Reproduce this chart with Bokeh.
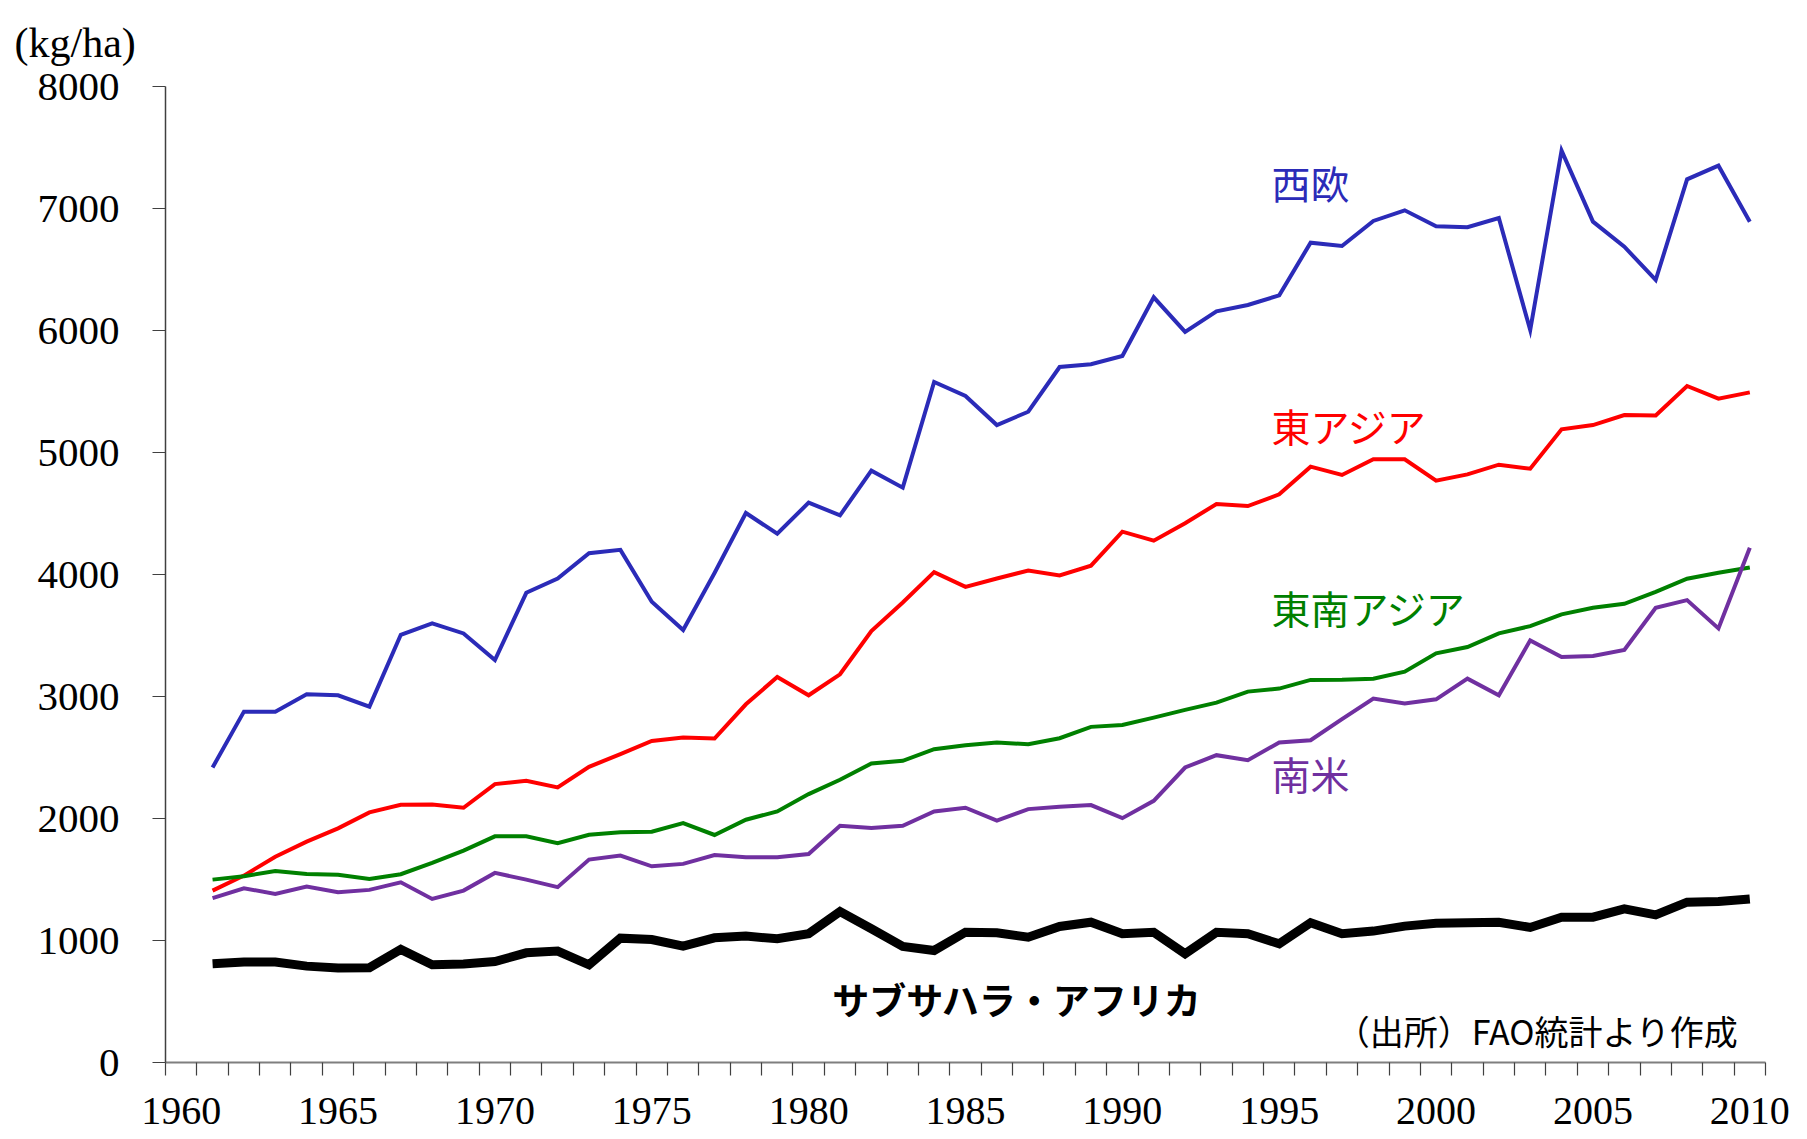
from bokeh.plotting import figure
from bokeh.models import Range1d, FixedTicker, Label
from bokeh.embed import file_html
from bokeh.resources import INLINE

years = list(range(1961, 2011))

west_europe = [2418, 2876, 2876, 3018, 3010, 2917, 3506, 3599, 3517, 3299,
               3850, 3967, 4174, 4202, 3776, 3545, 4013, 4504, 4334, 4589,
               4485, 4851, 4712, 5578, 5463, 5225, 5334, 5701, 5723, 5791,
               6272, 5988, 6157, 6209, 6288, 6720, 6693, 6898, 6985, 6854,
               6846, 6922, 6004, 7474, 6892, 6687, 6414, 7239, 7351, 6892]

east_asia = [1409, 1532, 1687, 1810, 1919, 2050, 2113, 2115, 2088, 2282,
             2309, 2255, 2424, 2527, 2636, 2663, 2655, 2936, 3160, 3010,
             3182, 3536, 3770, 4019, 3899, 3967, 4033, 3992, 4072, 4351,
             4277, 4420, 4578, 4561, 4657, 4884, 4816, 4944, 4944, 4769,
             4821, 4900, 4867, 5190, 5225, 5307, 5303, 5545, 5441, 5493]

southeast_asia = [1499, 1527, 1570, 1546, 1538, 1505, 1543, 1636, 1737, 1854,
                  1854, 1797, 1867, 1887, 1892, 1963, 1865, 1990, 2058, 2200,
                  2317, 2451, 2473, 2568, 2601, 2623, 2609, 2658, 2751, 2767,
                  2827, 2890, 2950, 3040, 3065, 3136, 3138, 3146, 3204, 3354,
                  3406, 3517, 3577, 3673, 3727, 3760, 3858, 3965, 4014, 4057]

south_america = [1347, 1428, 1382, 1442, 1396, 1415, 1477, 1341, 1409, 1554,
                 1499, 1437, 1663, 1696, 1608, 1628, 1701, 1682, 1682, 1709,
                 1941, 1922, 1941, 2058, 2088, 1982, 2077, 2096, 2110, 2003,
                 2145, 2418, 2519, 2478, 2623, 2642, 2814, 2983, 2942, 2977,
                 3146, 3010, 3460, 3324, 3332, 3381, 3727, 3790, 3558, 4220]

subsaharan_africa = [809, 823, 823, 790, 774, 777, 927, 801, 807, 828,
                     899, 913, 801, 1019, 1008, 954, 1022, 1036, 1014, 1055,
                     1238, 1096, 951, 918, 1068, 1063, 1027, 1115, 1150, 1055,
                     1068, 891, 1068, 1055, 973, 1145, 1055, 1077, 1118, 1142,
                     1145, 1150, 1107, 1191, 1191, 1259, 1210, 1314, 1319, 1341]

series_names = ["西欧", "東アジア", "東南アジア", "南米", "サブサハラ・アフリカ"]
series_values = [west_europe, east_asia, southeast_asia, south_america, subsaharan_africa]
series_colors = ["#2B2BB8", "#FF0000", "#008000", "#7030A0", "#000000"]
series_widths = [4, 4, 4, 4, 9]

# label anchor positions (data units)
label_x = [1994.75, 1994.75, 1994.75, 1994.75, 1980.75]
label_y = [7216, 5225, 3734, 2373, 520]

x_tick_labels = [1960, 1965, 1970, 1975, 1980, 1985, 1990, 1995, 2000, 2005, 2010]
y_ticks = [0, 1000, 2000, 3000, 4000, 5000, 6000, 7000, 8000]

unit_text = "(kg/ha)"
source_text = "（出所）FAO統計より作成"

JP = "Noto Sans CJK JP"
SERIF = "Liberation Serif"

p = figure(width=1799, height=1135, output_backend="svg", toolbar_location=None,
           x_range=Range1d(1959.5, 2010.5), y_range=Range1d(0, 8000),
           min_border_left=165, min_border_right=34, min_border_top=86,
           min_border_bottom=73)
p.outline_line_color = None
p.xgrid.visible = False
p.ygrid.visible = False
p.background_fill_color = "white"
p.border_fill_color = "white"

# unit text shown top-left
p.title.text = unit_text
p.title.text_font = SERIF
p.title.text_font_size = "42px"
p.title.text_font_style = "normal"
p.title.text_color = "black"
p.title.align = "left"
p.title.vertical_align = "top"
p.title.offset = -151
p.title.standoff = 38

# x axis: labels at category centres, tick marks at category boundaries
p.xaxis.ticker = FixedTicker(ticks=x_tick_labels,
                             minor_ticks=[y - 0.5 for y in range(1960, 2012)])
p.xaxis.major_tick_out = 0
p.xaxis.major_tick_in = 0
p.xaxis.minor_tick_out = 13
p.xaxis.minor_tick_in = 0
p.xaxis.minor_tick_line_color = "#404040"
p.xaxis.minor_tick_line_width = 1.2
p.xaxis.axis_line_color = "#7F7F7F"
p.xaxis.axis_line_width = 2
p.xaxis.major_label_text_font = SERIF
p.xaxis.major_label_text_font_size = "40px"
p.xaxis.major_label_text_color = "black"
p.xaxis.major_label_standoff = 22

p.yaxis.ticker = FixedTicker(ticks=y_ticks)
p.yaxis.minor_tick_line_color = None
p.yaxis.major_tick_out = 13
p.yaxis.major_tick_in = 0
p.yaxis.major_tick_line_color = "#404040"
p.yaxis.major_tick_line_width = 1.2
p.yaxis.axis_line_color = "#404040"
p.yaxis.axis_line_width = 1.5
p.yaxis.major_label_text_font = SERIF
p.yaxis.major_label_text_font_size = "41px"
p.yaxis.major_label_text_color = "black"
p.yaxis.major_label_standoff = 33

for vals, col, w in zip(series_values, series_colors, series_widths):
    p.line(years, vals, line_color=col, line_width=w, line_join="miter")

for name, col, lx, ly in zip(series_names, series_colors, label_x, label_y):
    bold = name == "サブサハラ・アフリカ"
    p.add_layout(Label(x=lx, y=ly, text=name, text_color=col,
                       text_font=JP,
                       text_font_size="37px" if bold else "39px",
                       text_font_style="bold" if bold else "normal",
                       text_baseline="middle", text_align="left"))

p.add_layout(Label(x=2009.64, y=266, text=source_text, text_color="black",
                   text_font=JP, text_font_size="34px",
                   text_baseline="middle", text_align="right"))

open("out.html", "w").write(file_html(p, INLINE))
